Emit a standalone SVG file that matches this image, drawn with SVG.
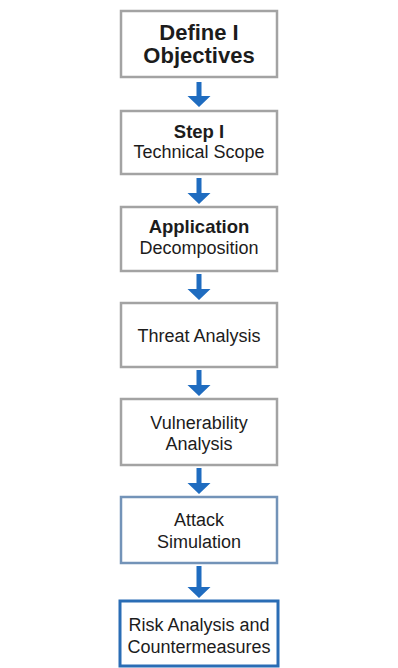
<svg xmlns="http://www.w3.org/2000/svg" width="398" height="668" viewBox="0 0 398 668">
  <style>
    .box { fill: #ffffff; stroke: #a3a3a3; stroke-width: 2.5; }
    .box-blue { fill: #ffffff; stroke: #7393b8; stroke-width: 2.5; }
    .box-strong { fill: #ffffff; stroke: #2a6db5; stroke-width: 3; }
    .t { font-family: "Liberation Sans", Arial, sans-serif; font-size: 18px; fill: #1c1c1c; text-anchor: middle; }
    .b { font-weight: bold; font-size: 18.5px; }
    .big { font-size: 22px; }
    .arrow { fill: #1f6cc0; }
  </style>
  <rect width="398" height="668" fill="#ffffff"/>

  <g id="connectors">
    <!-- shaft plus head, tip touching the next box -->
    <path class="arrow" d="M196.5,82 h5 v14 h9 l-11.5,11 l-11.5,-11 h9 z"/>
    <path class="arrow" d="M196.5,178 h5 v15 h9 l-11.5,11 l-11.5,-11 h9 z"/>
    <path class="arrow" d="M196.5,274 h5 v15 h9 l-11.5,11 l-11.5,-11 h9 z"/>
    <path class="arrow" d="M196.5,370 h5 v15 h9 l-11.5,11 l-11.5,-11 h9 z"/>
    <path class="arrow" d="M196.5,468 h5 v15 h9 l-11.5,11 l-11.5,-11 h9 z"/>
    <path class="arrow" d="M196.5,566 h5 v21 h9 l-11.5,11 l-11.5,-11 h9 z"/>
  </g>

  <g id="objectives">
    <rect class="box" x="121" y="11" width="156" height="66"/>
    <text class="t b big" x="199" y="40">Define I</text>
    <text class="t b big" x="199" y="63">Objectives</text>
  </g>
  <g id="scope">
    <rect class="box" x="121" y="111" width="156" height="63"/>
    <text class="t b" x="199" y="138">Step I</text>
    <text class="t" x="199" y="158">Technical Scope</text>
  </g>
  <g id="decomposition">
    <rect class="box" x="121" y="207" width="156" height="64"/>
    <text class="t b" x="199" y="233">Application</text>
    <text class="t" x="199" y="254">Decomposition</text>
  </g>
  <g id="threat">
    <rect class="box" x="121" y="303" width="156" height="64"/>
    <text class="t" x="199" y="342">Threat Analysis</text>
  </g>
  <g id="vulnerability">
    <rect class="box" x="121" y="399" width="156" height="66"/>
    <text class="t" x="199" y="429">Vulnerability</text>
    <text class="t" x="199" y="450">Analysis</text>
  </g>
  <g id="attack">
    <rect class="box-blue" x="121" y="497" width="156" height="66"/>
    <text class="t" x="199" y="526">Attack</text>
    <text class="t" x="199" y="548">Simulation</text>
  </g>
  <g id="risk">
    <rect class="box-strong" x="120" y="601" width="158" height="65"/>
    <text class="t" x="199" y="631">Risk Analysis and</text>
    <text class="t" x="199" y="653">Countermeasures</text>
  </g>
</svg>
